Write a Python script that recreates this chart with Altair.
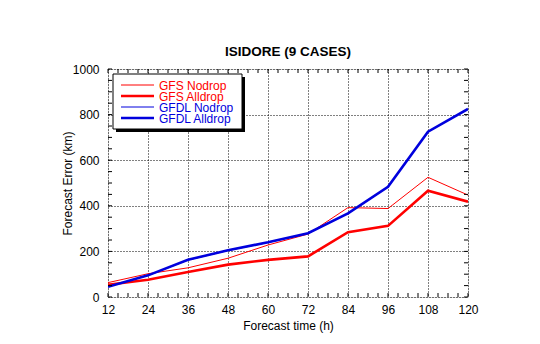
import altair as alt
import pandas as pd

# ---- data ----
hours = [12, 24, 36, 48, 60, 72, 84, 96, 108, 120]
gfs_nodrop = [63, 102, 128, 170, 228, 276, 392, 388, 525, 447]
gfs_alldrop = [54, 76, 110, 142, 163, 178, 284, 312, 466, 418]
gfdl_nodrop = [46, 94, 162, 204, 239, 279, 366, 482, 724, 824]
gfdl_alldrop = [45, 95, 163, 205, 240, 280, 367, 483, 725, 825]

series_names = ["GFS Nodrop", "GFS Alldrop", "GFDL Nodrop", "GFDL Alldrop"]
series_values = [gfs_nodrop, gfs_alldrop, gfdl_nodrop, gfdl_alldrop]
series_colors = ["#ff0000", "#ff0000", "#0000dd", "#0000dd"]
series_widths = [1, 2.6, 1, 2.6]

x_major = [12, 24, 36, 48, 60, 72, 84, 96, 108, 120]
x_minor = list(range(12, 121, 3))
y_major = [0, 200, 400, 600, 800, 1000]
y_minor = list(range(0, 1001, 50))

W, H = 360, 228
FONT = "Liberation Sans"

x_scale = alt.Scale(domain=[12, 120], nice=False, zero=False)
y_scale = alt.Scale(domain=[0, 1000], nice=False)

x_axis = alt.Axis(values=x_major, title="Forecast time (h)", grid=True, gridDash=[1, 2],
                  gridColor="black", gridOpacity=1, gridWidth=1, ticks=False, domain=False,
                  labelPadding=7, labelFontSize=12, labelFont=FONT, labelColor="black",
                  titleFont=FONT, titleFontSize=12, titleFontWeight="normal", titleColor="black",
                  titleY=32, titleBaseline="alphabetic", labelFlush=False, format="d")
y_axis = alt.Axis(values=y_major, title="Forecast Error (km)", grid=True, gridDash=[1, 2],
                  gridColor="black", gridOpacity=1, gridWidth=1, ticks=False, domain=False,
                  labelPadding=9, labelFontSize=12, labelFont=FONT, labelColor="black",
                  titleFont=FONT, titleFontSize=12, titleFontWeight="normal", titleColor="black",
                  titleX=-41, titleY=114, titleBaseline="middle", titleAngle=-90, labelFlush=False,
                  format="d")

layers = []

# data lines
for name, vals, col, wd in zip(series_names, series_values, series_colors, series_widths):
    df = pd.DataFrame({"hour": hours, "err": vals})
    layers.append(
        alt.Chart(df).mark_line(color=col, strokeWidth=wd, clip=True).encode(
            x=alt.X("hour:Q", scale=x_scale, axis=x_axis),
            y=alt.Y("err:Q", scale=y_scale, axis=y_axis),
        )
    )

# inward ticks
xt = pd.DataFrame({"hour": x_minor})
yt = pd.DataFrame({"err": y_minor})
for y0, y1 in [(H, H - 4), (0, 4)]:
    layers.append(alt.Chart(xt).mark_rule(color="black", strokeWidth=1).encode(
        x=alt.X("hour:Q", scale=x_scale, axis=x_axis),
        y=alt.value(y0), y2=alt.value(y1)))
for x0, x1 in [(0, 4), (W, W - 4)]:
    layers.append(alt.Chart(yt).mark_rule(color="black", strokeWidth=1).encode(
        y=alt.Y("err:Q", scale=y_scale, axis=y_axis),
        x=alt.value(x0), x2=alt.value(x1)))

# legend box
one = pd.DataFrame({"a": [0]})
layers.append(alt.Chart(one).mark_rect(color="black").encode(
    x=alt.value(8), x2=alt.value(137), y=alt.value(8), y2=alt.value(63)))
layers.append(alt.Chart(one).mark_rect(fill="white", stroke="black", strokeWidth=1).encode(
    x=alt.value(5), x2=alt.value(134), y=alt.value(5), y2=alt.value(60)))
row_y = [16, 27, 38, 49]
for name, col, wd, ry in zip(series_names, series_colors, series_widths, row_y):
    layers.append(alt.Chart(one).mark_rule(color=col, strokeWidth=wd).encode(
        x=alt.value(13), x2=alt.value(46), y=alt.value(ry)))
    layers.append(alt.Chart(one).mark_text(color=col, align="left", baseline="middle",
                                           font=FONT, fontSize=12).encode(
        x=alt.value(51), y=alt.value(ry + 0.5), text=alt.value(name)))

chart = alt.layer(*layers).properties(
    width=W, height=H,
    title=alt.TitleParams("ISIDORE (9 CASES)", font=FONT, fontSize=13.5, fontWeight="bold",
                          color="black", anchor="middle", offset=-6, baseline="alphabetic"),
    autosize=alt.AutoSizeParams(type="none"),
    padding={"left": 108, "top": 69, "right": 72, "bottom": 47},
).configure_view(stroke="black", strokeWidth=1).configure(background="white")

chart.save("out.html", embed_options={"renderer": "svg", "actions": False})
